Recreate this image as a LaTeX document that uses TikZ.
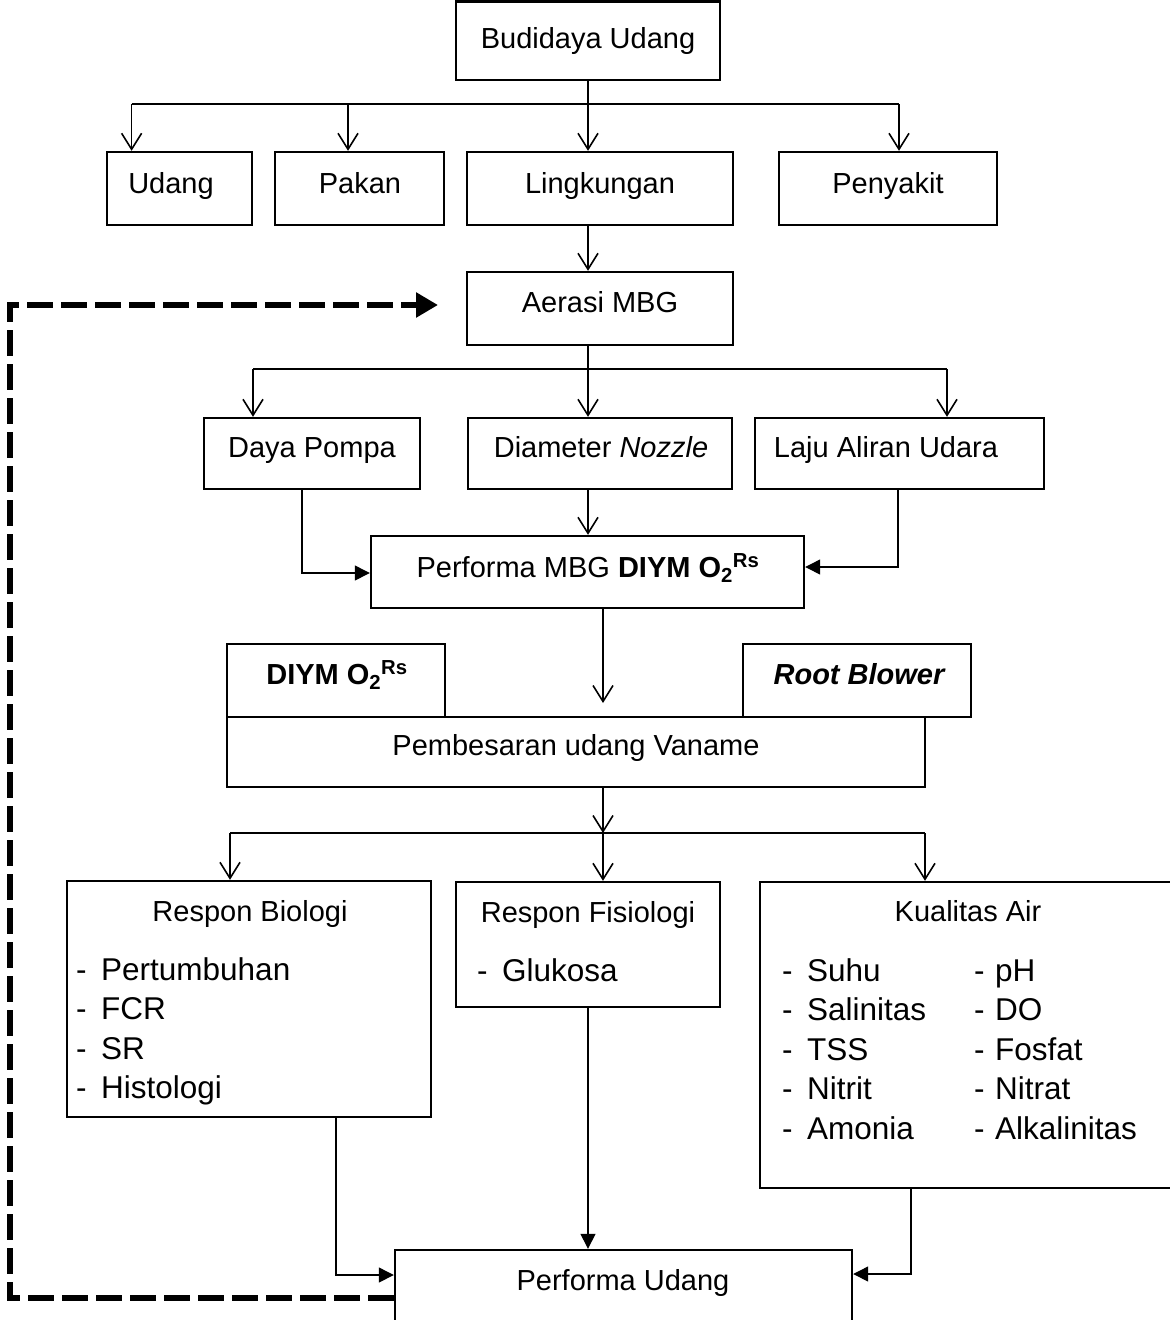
\documentclass[tikz,border=0pt]{standalone}
\usepackage{fontspec}
\setmainfont{Liberation Sans}
\usetikzlibrary{arrows.meta,fit}
\begin{document}
\begin{tikzpicture}[x=1pt,y=-1pt,
  box/.style={draw,line width=2.4pt,inner sep=0pt},
  tit/.style={font=\fontsize{29}{34}\selectfont,anchor=base,inner sep=0pt},
  lst/.style={font=\fontsize{31.5}{38}\selectfont,anchor=base west,inner sep=0pt},
  hl/.style={line width=1.7pt},
  thinl/.style={line width=1.3pt},
  oarr/.style={-{Straight Barb[length=16pt,width=20pt,line width=1.6pt]}},
  farr/.style={-{Triangle[length=15pt,width=15pt]}},
  fb/.style={line width=6pt,dash pattern=on 26pt off 8pt,-{Triangle[length=22pt,width=24pt]}}]
\useasboundingbox (0,0) rectangle (1170,1320);

% boxes
\node[box,fit={(456,1.5) (720,80)}] (bud) {};
\node[box,fit={(107,152) (252,225)}] (udang) {};
\node[box,fit={(275,152) (444,225)}] (pakan) {};
\node[box,fit={(467,152) (733,225)}] (ling) {};
\node[box,fit={(779,152) (997,225)}] (peny) {};
\node[box,fit={(467,272) (733,345)}] (aer) {};
\node[box,fit={(204,418) (420,489)}] (daya) {};
\node[box,fit={(468,418) (732,489)}] (diam) {};
\node[box,fit={(755,418) (1044,489)}] (laju) {};
\node[box,fit={(371,536) (804,608)}] (pmbg) {};
\node[box,fit={(227,644) (445,717)}] (diym) {};
\node[box,fit={(743,644) (971,717)}] (root) {};
\node[box,fit={(227,717) (925,787)}] (pemb) {};
\node[box,fit={(67,881) (431,1117)}] (bio) {};
\node[box,fit={(456,882) (720,1007)}] (fis) {};
\node[box,fit={(760,882) (1190,1188)}] (kual) {};
\node[box,fit={(395,1250) (852,1345)}] (pud) {};

% texts
\node[tit] (tbud) at (588,48.5) {Budidaya Udang};
\node[tit] (tudang) at (171,193.5) {Udang};
\node[tit] (tpakan) at (360,193.5) {Pakan};
\node[tit] (tling) at (600,193.5) {Lingkungan};
\node[tit] (tpeny) at (888,193.5) {Penyakit};
\node[tit] (taer) at (600,312) {Aerasi MBG};
\node[tit] (tdaya) at (312,457) {Daya Pompa};
\node[tit] (tdiam) at (601,457) {Diameter \textit{Nozzle}};
\node[tit] (tlaju) at (886,457) {Laju Aliran Udara};
\node[tit] (tpmbg) at (588,577) {Performa MBG \textbf{DIYM O\textsubscript{2}\textsuperscript{Rs}}};
\node[tit] (tdiym) at (337,684) {\textbf{DIYM O\textsubscript{2}\textsuperscript{Rs}}};
\node[tit] (troot) at (859,684) {\bfseries\itshape Root Blower};
\node[tit] (tpemb) at (576,755) {Pembesaran udang Vaname};
\node[tit] (tbio) at (250,921) {Respon Biologi};
\node[tit] (tfis) at (588,922) {Respon Fisiologi};
\node[tit] (tkual) at (968,921) {Kualitas Air};
\node[tit] (tpud) at (623,1290) {Performa Udang};

\foreach \t [count=\i] in {Pertumbuhan,FCR,SR,Histologi}
  \node[lst] (bl\i) at (76,{980+39.5*(\i-1)}) {\makebox[25pt][l]{-}\t};
\node[lst] (fl1) at (477,981) {\makebox[25pt][l]{-}Glukosa};
\foreach \t [count=\i] in {Suhu,Salinitas,TSS,Nitrit,Amonia}
  \node[lst] (ka\i) at (782,{981+39.5*(\i-1)}) {\makebox[25pt][l]{-}\t};
\foreach \t [count=\i] in {pH,DO,Fosfat,Nitrat,Alkalinitas}
  \node[lst] (kb\i) at (974,{981+39.5*(\i-1)}) {\makebox[21pt][l]{-}\t};

% connectors: level 1
\coordinate (a0) at (588,104);
\coordinate (a1) at (131.6,104);
\coordinate (a2) at (348,104);
\coordinate (a4) at (899,104);
\draw[hl] (bud.south -| a0) -- (a0);
\draw[hl] (a1) -- (a4);
\draw[hl,oarr] (a1) -- (a1 |- udang.north);
\draw[hl,oarr] (a2) -- (a2 |- pakan.north);
\draw[hl,oarr] (a0) -- (a0 |- ling.north);
\draw[hl,oarr] (a4) -- (a4 |- peny.north);
\draw[hl,oarr] (ling.south -| a0) -- (aer.north -| a0);

% level 2
\coordinate (b0) at (588,369);
\coordinate (b1) at (253,369);
\coordinate (b3) at (947,369);
\draw[hl] (aer.south -| b0) -- (b0);
\draw[hl] (b1) -- (b3);
\draw[hl,oarr] (b1) -- (b1 |- daya.north);
\draw[hl,oarr] (b0) -- (b0 |- diam.north);
\draw[hl,oarr] (b3) -- (b3 |- laju.north);

% into Performa MBG
\coordinate (c1) at (302,573);
\coordinate (c3) at (898,567);
\draw[thinl,farr] (daya.south -| c1) -- (c1) -- (pmbg.west |- c1);
\draw[thinl,oarr] (diam.south -| a0) -- (pmbg.north -| a0);
\draw[thinl,farr] (laju.south -| c3) -- (c3) -- (pmbg.east |- c3);

% to Pembesaran
\coordinate (d0) at (603,703);
\draw[thinl,oarr] (pmbg.south -| d0) -- (d0);

% level 3
\coordinate (e0) at (603,833);
\coordinate (e1) at (230,833);
\coordinate (e3) at (925,833);
\draw[hl,oarr] (pemb.south -| e0) -- (e0);
\draw[hl] (e1) -- (e3);
\draw[hl,oarr] (e1) -- (e1 |- bio.north);
\draw[hl,oarr] (e0) -- (e0 |- fis.north);
\draw[hl,oarr] (e3) -- (e3 |- kual.north);

% into Performa Udang
\coordinate (f1) at (336,1275);
\coordinate (f2) at (588,1250);
\coordinate (f3) at (911,1274);
\draw[thinl,farr] (bio.south -| f1) -- (f1) -- (pud.west |- f1);
\draw[thinl,farr] (fis.south -| f2) -- (pud.north -| f2);
\draw[thinl,farr] (kual.south -| f3) -- (f3) -- (pud.east |- f3);

% feedback
\coordinate (g1) at (10,1298);
\coordinate (g2) at (10,305);
\coordinate (g3) at (438,305);
\draw[fb] (pud.west |- g1) -- (g1) -- (g2) -- (g3);
\end{tikzpicture}
\end{document}
